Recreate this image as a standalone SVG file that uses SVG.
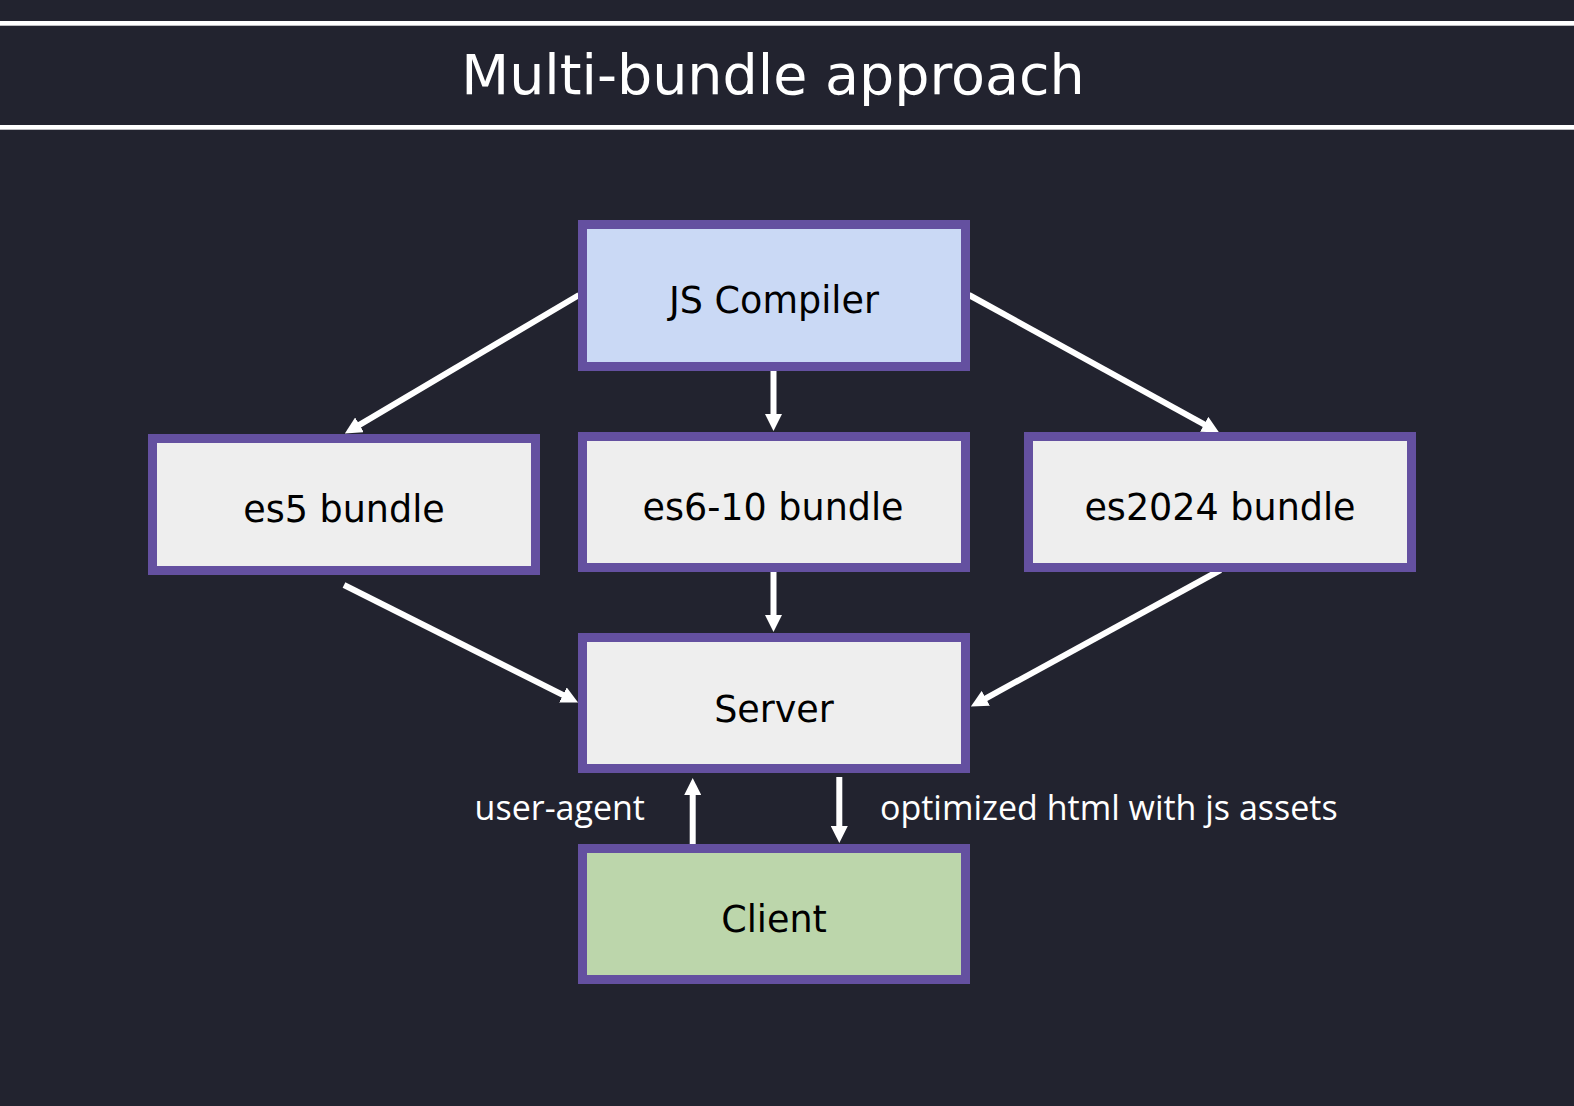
<svg xmlns="http://www.w3.org/2000/svg" width="1574" height="1106" viewBox="0 0 1574 1106">
<style>
.box{stroke:#6450a0;stroke-width:9}
.gray{fill:#eeeeee}
.lbl{font-family:"DejaVu Sans",sans-serif;font-size:36.5px;fill:#000;text-anchor:middle}
.edge{font-family:"Open Sans",sans-serif;font-size:34px;fill:#ffffff}
.conn{stroke:#ffffff;stroke-width:6;fill:none}
</style>
<defs>
<marker id="ah" viewBox="0 0 17 17" refX="1" refY="8.5" markerWidth="17" markerHeight="17" markerUnits="userSpaceOnUse" orient="auto">
<path d="M0,0 L17,8.5 L0,17 z" fill="#ffffff"/>
</marker>
</defs>
<rect x="0" y="0" width="1574" height="1106" fill="#22232f"/>
<rect x="0" y="21" width="1574" height="4.7" fill="#ffffff"/>
<rect x="0" y="125" width="1574" height="4.7" fill="#ffffff"/>
<text x="773" y="93.5" font-family="DejaVu Sans, sans-serif" font-size="55.5" fill="#ffffff" text-anchor="middle">Multi-bundle approach</text>

<g id="connectors">
<line class="conn" x1="579" y1="295" x2="358.6" y2="425.3" marker-end="url(#ah)"/>
<line class="conn" x1="969" y1="295" x2="1205.1" y2="424.8" marker-end="url(#ah)"/>
<line class="conn" x1="773.5" y1="371" x2="773.5" y2="415" marker-end="url(#ah)"/>
<line class="conn" x1="773.5" y1="572" x2="773.5" y2="616" marker-end="url(#ah)"/>
<line class="conn" x1="344" y1="585" x2="563.8" y2="695.4" marker-end="url(#ah)"/>
<line class="conn" x1="1220.5" y1="570" x2="984.9" y2="698.8" marker-end="url(#ah)"/>
<line class="conn" x1="692.7" y1="844" x2="692.7" y2="794" marker-end="url(#ah)"/>
<line class="conn" x1="839.3" y1="777" x2="839.3" y2="827" marker-end="url(#ah)"/>
<text class="edge" x="645" y="820" text-anchor="end">user-agent</text>
<text class="edge" x="880" y="820">optimized html with js assets</text>
</g>

<g id="js-compiler">
<rect class="box" x="582.5" y="224.5" width="383" height="142" fill="#cad9f5"/>
<text class="lbl" x="774" y="313">JS Compiler</text>
</g>
<g id="es5-bundle">
<rect class="box gray" x="152.5" y="438.5" width="383" height="132"/>
<text class="lbl" x="344" y="522">es5 bundle</text>
</g>
<g id="es6-10-bundle">
<rect class="box gray" x="582.5" y="436.5" width="383" height="131"/>
<text class="lbl" x="773" y="520">es6-10 bundle</text>
</g>
<g id="es2024-bundle">
<rect class="box gray" x="1028.5" y="436.5" width="383" height="131"/>
<text class="lbl" x="1220" y="520">es2024 bundle</text>
</g>
<g id="server">
<rect class="box gray" x="582.5" y="637.5" width="383" height="131"/>
<text class="lbl" x="774" y="722">Server</text>
</g>
<g id="client">
<rect class="box" x="582.5" y="848.5" width="383" height="131" fill="#bcd6ab"/>
<text class="lbl" x="774" y="932">Client</text>
</g>
</svg>
